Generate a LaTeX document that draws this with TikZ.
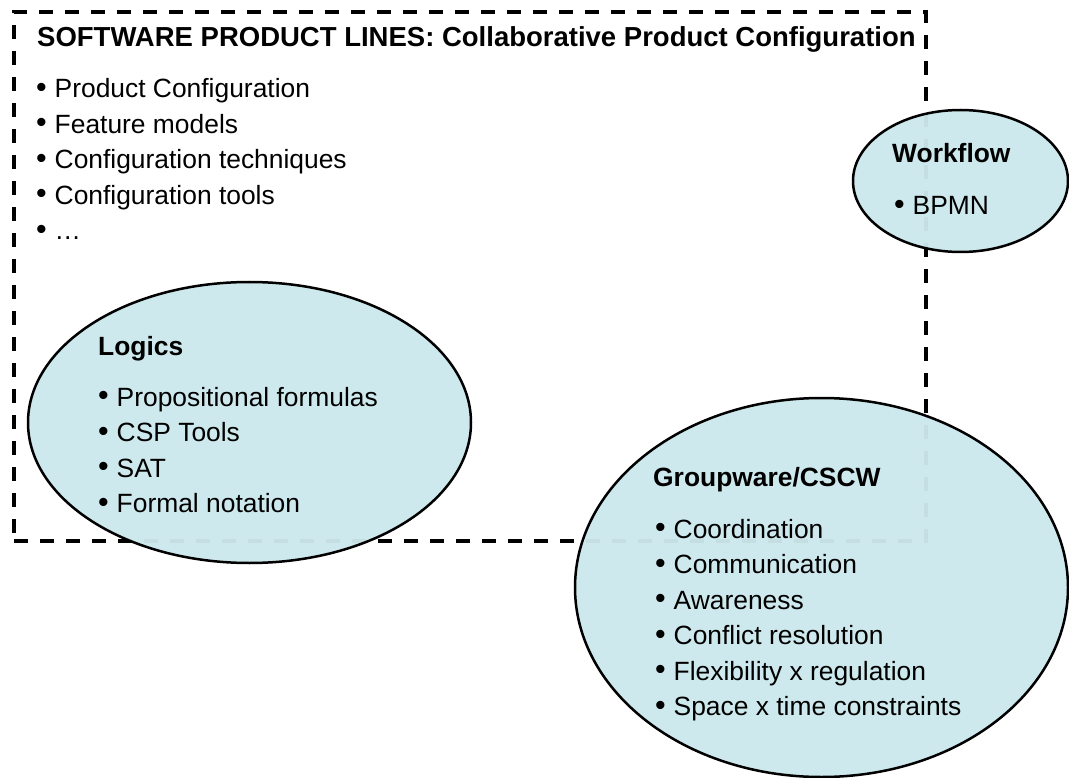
\documentclass[tikz,border=0pt]{standalone}
\usepackage{fontspec}
\setmainfont{Liberation Sans}
\usetikzlibrary{shapes.geometric}
\definecolor{ellfill}{RGB}{204,232,236}
\tikzset{
  frame/.style={draw=black, line width=3.5pt, dash pattern=on 14pt off 12pt, inner sep=0pt},
  bubble/.style={ellipse, draw=black, line width=2.5pt, fill=ellfill, fill opacity=0.96, inner sep=0pt},
  head/.style={anchor=base west, inner sep=0pt, font=\fontsize{26.4}{30}\selectfont\bfseries},
  title/.style={anchor=base west, inner sep=0pt, font=\fontsize{27.5}{30}\selectfont\bfseries},
  item/.style={anchor=base west, inner sep=0pt, font=\fontsize{26.4}{30}\selectfont},
}
\newcommand{\bulitem}[1]{\makebox[18.5pt][l]{\raisebox{0.5pt}{\scalebox{1.15}{•}}}#1}
\begin{document}
\begin{tikzpicture}[x=1pt,y=-1pt]
\useasboundingbox (0,0) rectangle (1069,778);
% frame
\node[frame, minimum width=912pt, minimum height=529pt] (spl) at (470,276.5) {};
% ellipses
\node[bubble, minimum width=443pt, minimum height=281pt] (logics) at (249.5,422.5) {};
\node[bubble, minimum width=215pt, minimum height=142pt] (workflow) at (960.5,181) {};
\node[bubble, minimum width=493pt, minimum height=379pt] (groupware) at (821.5,587.5) {};
% SPL text
\node[title] (spltitle) at (37,47) {SOFTWARE PRODUCT LINES: Collaborative Product Configuration};
\node[item] (spl1) at (36,98) {\bulitem{Product Configuration}};
\node[item] (spl2) at (36,133.5) {\bulitem{Feature models}};
\node[item] (spl3) at (36,169) {\bulitem{Configuration techniques}};
\node[item] (spl4) at (36,204.5) {\bulitem{Configuration tools}};
\node[item] (spl5) at (36,240) {\bulitem{…}};
% Logics
\node[head] (logtitle) at (98,355) {Logics};
\node[item] (log1) at (98,406) {\bulitem{Propositional formulas}};
\node[item] (log2) at (98,441.5) {\bulitem{CSP Tools}};
\node[item] (log3) at (98,477) {\bulitem{SAT}};
\node[item] (log4) at (98,512.5) {\bulitem{Formal notation}};
% Workflow
\node[head] (wftitle) at (892,163) {Workflow};
\node[item] (wf1) at (894,215) {\bulitem{BPMN}};
% Groupware
\node[head] (gwtitle) at (653,486) {Groupware/CSCW};
\node[item] (gw1) at (655,538) {\bulitem{Coordination}};
\node[item] (gw2) at (655,573.5) {\bulitem{Communication}};
\node[item] (gw3) at (655,609) {\bulitem{Awareness}};
\node[item] (gw4) at (655,644.5) {\bulitem{Conflict resolution}};
\node[item] (gw5) at (655,680) {\bulitem{Flexibility x regulation}};
\node[item] (gw6) at (655,715.5) {\bulitem{Space x time constraints}};
\end{tikzpicture}
\end{document}
